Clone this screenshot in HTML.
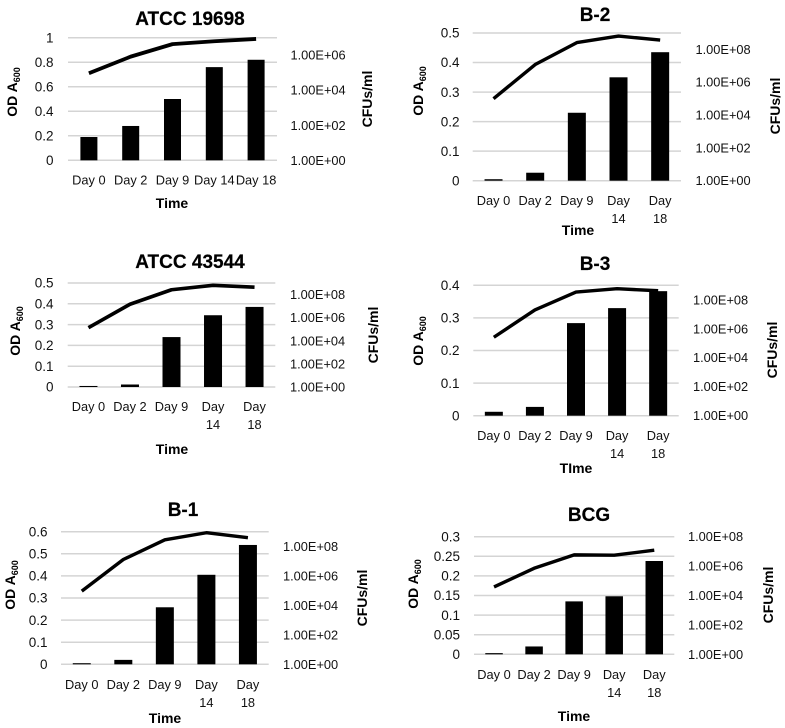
<!DOCTYPE html>
<html lang="en">
<head>
<meta charset="utf-8">
<title>OD and CFU growth charts</title>
<style>
html,body{margin:0;padding:0;background:#fff;width:785px;height:728px;overflow:hidden}
svg{display:block;filter:blur(.35px)}
text{font-family:"Liberation Sans",sans-serif;fill:#111}
.title{font-size:19px;font-weight:bold;text-anchor:middle;fill:#000;stroke:#000;stroke-width:.2px}
.axis{font-size:14px;font-weight:bold;text-anchor:middle;fill:#000}
.sub{font-size:9px}
.tick{font-size:13.5px}
.xtick{font-size:12.8px;text-anchor:middle}
.rtick{font-size:12.8px}
</style>
</head>
<body>
<svg id="figure" width="785" height="728" viewBox="0 0 785 728" xmlns="http://www.w3.org/2000/svg">
  <rect width="785" height="728" fill="#fff"/>

  <g id="c1">
    <g class="marks"></g>
    <text class="title" x="190" y="25">ATCC 19698</text>
    <text class="axis" x="172" y="208">Time</text>
    <text class="axis" transform="translate(17,92) rotate(-90)">OD A<tspan class="sub" dy="3">600</tspan></text>
    <text class="axis" transform="translate(372,99) rotate(-90)">CFUs/ml</text>
  </g>

  <g id="c2">
    <g class="marks"></g>
    <text class="title" x="595" y="21">B-2</text>
    <text class="axis" x="578" y="235">Time</text>
    <text class="axis" transform="translate(423,91) rotate(-90)">OD A<tspan class="sub" dy="3">600</tspan></text>
    <text class="axis" transform="translate(780,106) rotate(-90)">CFUs/ml</text>
  </g>

  <g id="c3">
    <g class="marks"></g>
    <text class="title" x="190" y="268">ATCC 43544</text>
    <text class="axis" x="172" y="454">Time</text>
    <text class="axis" transform="translate(20,331) rotate(-90)">OD A<tspan class="sub" dy="3">600</tspan></text>
    <text class="axis" transform="translate(378,335) rotate(-90)">CFUs/ml</text>
  </g>

  <g id="c4">
    <g class="marks"></g>
    <text class="title" x="595" y="270">B-3</text>
    <text class="axis" x="576" y="473">TIme</text>
    <text class="axis" transform="translate(423,341) rotate(-90)">OD A<tspan class="sub" dy="3">600</tspan></text>
    <text class="axis" transform="translate(777,350) rotate(-90)">CFUs/ml</text>
  </g>

  <g id="c5">
    <g class="marks"></g>
    <text class="title" x="183" y="516">B-1</text>
    <text class="axis" x="165" y="723">Time</text>
    <text class="axis" transform="translate(15,585) rotate(-90)">OD A<tspan class="sub" dy="3">600</tspan></text>
    <text class="axis" transform="translate(367,598) rotate(-90)">CFUs/ml</text>
  </g>

  <g id="c6">
    <g class="marks"></g>
    <text class="title" x="589" y="521">BCG</text>
    <text class="axis" x="574" y="721">Time</text>
    <text class="axis" transform="translate(418,584) rotate(-90)">OD A<tspan class="sub" dy="3">600</tspan></text>
    <text class="axis" transform="translate(773,595) rotate(-90)">CFUs/ml</text>
  </g>
</svg>

<script>
// Shared categories
const categories = ["Day 0", "Day 2", "Day 9", "Day 14", "Day 18"];

// ATCC 19698
const odTicks1 = ["0", "0.2", "0.4", "0.6", "0.8", "1"];
const cfuTicks1 = ["1.00E+00", "1.00E+02", "1.00E+04", "1.00E+06"];
const odValues1 = [0.19, 0.28, 0.5, 0.76, 0.82];
const cfuValues1 = [9.3e4, 8.3e5, 4.3e6, 6.3e6, 8.5e6];

// B-2
const odTicks2 = ["0", "0.1", "0.2", "0.3", "0.4", "0.5"];
const cfuTicks2 = ["1.00E+00", "1.00E+02", "1.00E+04", "1.00E+06", "1.00E+08"];
const odValues2 = [0.005, 0.027, 0.23, 0.35, 0.435];
const cfuValues2 = [1e5, 1.2e7, 2.6e8, 6.5e8, 3.7e8];

// ATCC 43544
const odTicks3 = ["0", "0.1", "0.2", "0.3", "0.4", "0.5"];
const cfuTicks3 = ["1.00E+00", "1.00E+02", "1.00E+04", "1.00E+06", "1.00E+08"];
const odValues3 = [0.005, 0.012, 0.24, 0.345, 0.385];
const cfuValues3 = [1.35e5, 1.45e7, 2.6e8, 6.3e8, 4.3e8];

// B-3
const odTicks4 = ["0", "0.1", "0.2", "0.3", "0.4"];
const cfuTicks4 = ["1.00E+00", "1.00E+02", "1.00E+04", "1.00E+06", "1.00E+08"];
const odValues4 = [0.012, 0.027, 0.284, 0.33, 0.382];
const cfuValues4 = [2.6e5, 2e7, 3.4e8, 5.8e8, 4.2e8];

// B-1
const odTicks5 = ["0", "0.1", "0.2", "0.3", "0.4", "0.5", "0.6"];
const cfuTicks5 = ["1.00E+00", "1.00E+02", "1.00E+04", "1.00E+06", "1.00E+08"];
const odValues5 = [0.005, 0.02, 0.258, 0.405, 0.54];
const cfuValues5 = [9.3e4, 1.3e7, 2.8e8, 8.5e8, 3.9e8];

// BCG
const odTicks6 = ["0", "0.05", "0.1", "0.15", "0.2", "0.25", "0.3"];
const cfuTicks6 = ["1.00E+00", "1.00E+02", "1.00E+04", "1.00E+06", "1.00E+08"];
const odValues6 = [0.003, 0.02, 0.135, 0.148, 0.238];
const cfuValues6 = [3.8e4, 7.1e5, 5.8e6, 5.5e6, 1.2e7];

const NS = "http://www.w3.org/2000/svg";

function make(parent, tag, attrs, text) {
  const el = document.createElementNS(NS, tag);
  for (const k in attrs) el.setAttribute(k, attrs[k]);
  if (text !== undefined) el.textContent = text;
  parent.appendChild(el);
  return el;
}

function drawChart(frame, odTicks, cfuTicks, odValues, cfuValues) {
  const marks = document.querySelector("#" + frame.id + " .marks");
  const odMax = Math.max(...odTicks.map(parseFloat));
  const cfuDecades = frame.cfuDecades;
  const plotH = frame.bottom - frame.top;
  const band = (frame.right - frame.left) / categories.length;
  const xPos = i => frame.left + (i + 0.5) * band;
  const yOD = v => frame.bottom - (v / odMax) * plotH;
  const yCFU = v => frame.bottom - (Math.log10(v) / cfuDecades) * plotH;

  odTicks.forEach(label => {
    const v = parseFloat(label);
    const grid = make(marks, "line", {x1: frame.left, x2: frame.right, y1: yOD(v), y2: yOD(v), stroke: "#d4d4d4", "stroke-width": 1.5});
    
    
    const t = make(marks, "text", {class: "tick", x: frame.tickX, y: yOD(v) + 4.7, "text-anchor": "end"}, label);
    
    
  });

  cfuTicks.forEach(label => {
    const v = parseFloat(label);
    const t = make(marks, "text", {class: "rtick", x: frame.rightX, y: yCFU(v) + 4.5}, label);
    
    
  });

  odValues.forEach((v, i) => {
    const bar = make(marks, "rect", {x: xPos(i) - frame.barW / 2, y: yOD(v), width: frame.barW, height: frame.bottom - yOD(v), fill: "#000"});
    
    
  });

  const pts = cfuValues.map((v, i) => xPos(i) + "," + yCFU(v)).join(" ");
  const line = make(marks, "polyline", {points: pts, fill: "none", stroke: "#000", "stroke-width": frame.lineW, "stroke-linejoin": "round"});
  
  

  categories.forEach((c, i) => {
    const t = make(marks, "text", {class: "xtick", x: xPos(i), y: frame.xLabelY});
    
    
    const parts = c.split(" ");
    if (frame.wrap && parts[1].length > 1) {
      make(t, "tspan", {x: xPos(i)}, parts[0]);
      make(t, "tspan", {x: xPos(i), dy: 18}, parts[1]);
    } else {
      t.textContent = c;
    }
  });
}

drawChart({id: "c1", left: 68, right: 277, top: 37.7, bottom: 160.3, cfuDecades: 7, barW: 17, lineW: 3.8, tickX: 53.5, rightX: 290.5, xLabelY: 184.5, wrap: false}, odTicks1, cfuTicks1, odValues1, cfuValues1);
drawChart({id: "c2", left: 472.7, right: 681, top: 33, bottom: 180.7, cfuDecades: 9, barW: 18, lineW: 3.4, tickX: 459.5, rightX: 695.5, xLabelY: 205, wrap: true}, odTicks2, cfuTicks2, odValues2, cfuValues2);
drawChart({id: "c3", left: 67.7, right: 275.3, top: 283, bottom: 387, cfuDecades: 9, barW: 18, lineW: 3.6, tickX: 53.5, rightX: 290, xLabelY: 411, wrap: true}, odTicks3, cfuTicks3, odValues3, cfuValues3);
drawChart({id: "c4", left: 473.3, right: 678.7, top: 285.3, bottom: 415.7, cfuDecades: 9, barW: 18, lineW: 3.4, tickX: 459.5, rightX: 693, xLabelY: 440, wrap: true}, odTicks4, cfuTicks4, odValues4, cfuValues4);
drawChart({id: "c5", left: 61, right: 268.7, top: 531.7, bottom: 664.3, cfuDecades: 9, barW: 18, lineW: 3.4, tickX: 47.5, rightX: 283, xLabelY: 689, wrap: true}, odTicks5, cfuTicks5, odValues5, cfuValues5);
drawChart({id: "c6", left: 474, right: 674.3, top: 536.7, bottom: 654.3, cfuDecades: 8, barW: 17.5, lineW: 3.4, tickX: 460, rightX: 688, xLabelY: 679, wrap: true}, odTicks6, cfuTicks6, odValues6, cfuValues6);
</script>
</body>
</html>
